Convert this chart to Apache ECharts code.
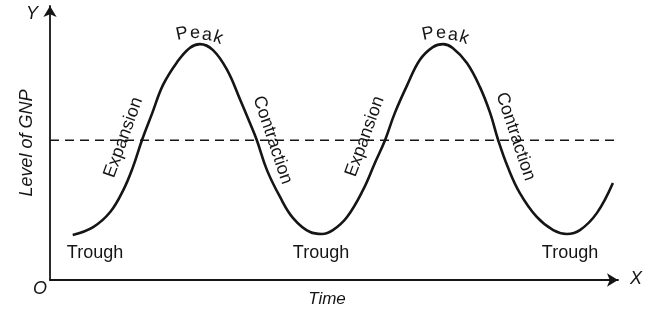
<!DOCTYPE html>
<html>
<head>
<meta charset="utf-8">
<script src="https://cdn.jsdelivr.net/npm/echarts@6/dist/echarts.min.js"></script>
<style>
html,body{margin:0;padding:0;background:#fff;}
#chart{width:648px;height:316px;}
</style>
</head>
<body>
<div id="chart"></div>
<script>
// Time (0-100) and level of GNP (0-100)
const timeValues = [4.0, 7.6, 10.6, 12.9, 14.6, 16.2, 18.0, 19.9, 22.4, 24.6, 26.4, 28.7, 31.2, 33.5, 35.2, 36.4, 38.2, 40.5, 42.8, 45.8, 47.9, 49.8, 52.3, 55.1, 57.2, 59.0, 60.7, 62.9, 65.1, 67.4, 69.2, 70.9, 73.4, 75.7, 77.5, 78.9, 80.6, 82.7, 85.7, 88.6, 91.0, 93.3, 96.3, 99.1];
const gnpValues  = [16.4, 19.3, 24.8, 32.8, 41.2, 51.1, 60.9, 71.2, 79.6, 84.7, 86.1, 83.9, 76.6, 65.7, 57.3, 51.1, 40.1, 30.3, 22.6, 17.5, 16.8, 18.2, 23.0, 32.8, 42.7, 51.1, 60.9, 71.2, 80.3, 85.0, 86.1, 84.7, 79.2, 70.4, 60.9, 51.1, 41.2, 31.8, 23.0, 18.2, 16.8, 18.2, 24.5, 35.4];
const trendTime = [0, 100];
const trendLevel = 51;

const fontFamily = '"Liberation Sans", Arial, Helvetica, sans-serif';
const ink = '#151515';

const chart = echarts.init(document.getElementById('chart'), null, {renderer: 'canvas'});

function txt(text, x, y, deg, opts) {
  return {
    type: 'text', x: x, y: y, rotation: (deg || 0) * Math.PI / 180,
    style: Object.assign({
      text: text, fill: ink, font: '18px ' + fontFamily,
      textAlign: 'center', textVerticalAlign: 'middle'
    }, opts || {})
  };
}
const italic = (size) => ({font: 'italic ' + size + 'px ' + fontFamily});

const graphics = [
  txt('Y', 32, 14, 0, italic(18)),
  txt('X', 636, 279, 0, italic(18)),
  txt('O', 40, 289, 0, italic(18)),
  txt('Level of GNP', 27, 143, 90, italic(18)),
  txt('Time', 327, 299, 0, italic(17)),
  txt('Trough', 95, 253),
  txt('Trough', 321, 253),
  txt('Trough', 570, 253),
  txt('Expansion', 123.5, 137.5, 70),
  txt('Expansion', 365, 136.5, 70),
  txt('Contraction', 272.5, 140, -71.5),
  txt('Contraction', 515.5, 136.5, -71.5),
  // Peak labels, letters laid along an arc
  txt('P', 182, 34, 12), txt('e', 195, 33, 2), txt('a', 207, 35, -6), txt('k', 218, 38, -18),
  txt('P', 428, 34, 12), txt('e', 441, 33, 2), txt('a', 453, 35, -6), txt('k', 464, 38, -18)
];

const axisCommon = {
  type: 'value', min: 0, max: 100,
  axisLabel: {show: false}, axisTick: {show: false}, splitLine: {show: false},
  axisLine: {show: true, symbol: ['none', 'arrow'], symbolSize: [10, 11],
    lineStyle: {color: ink, width: 1.8}}
};

chart.setOption({
  animation: false,
  backgroundColor: '#ffffff',
  grid: {left: 50, top: 6, width: 568, height: 274},
  xAxis: axisCommon,
  yAxis: axisCommon,
  series: [
    {
      type: 'line', data: trendTime.map(t => [t, trendLevel]),
      showSymbol: false, symbol: 'none',
      lineStyle: {color: ink, width: 1.5, type: [9, 6]}
    },
    {
      type: 'line', data: timeValues.map((t, i) => [t, gnpValues[i]]),
      smooth: 0.4, showSymbol: false, symbol: 'none',
      lineStyle: {color: ink, width: 2.6}
    }
  ],
  graphic: graphics
});
</script>
</body>
</html>
